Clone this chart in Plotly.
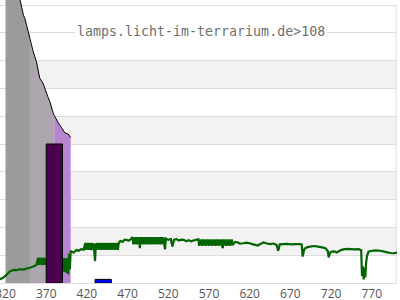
import plotly.graph_objects as go

# ---- data ----
x_ticks = [320, 370, 420, 470, 520, 570, 620, 670, 720, 770]

uv_nm = [320, 330, 338.5, 340, 342, 344, 346, 348, 350, 352, 354, 358, 360, 362, 366, 368,
         372, 374.5, 376.5, 378.5, 380, 383, 385, 389, 393, 397, 399, 400]
uv_val = [125, 112.5, 101.8, 99, 96.3, 95, 92.6, 90, 87.3, 85.6, 83.2, 79.6, 76.6, 73.7, 71.9, 70.1,
          67, 65.2, 62.9, 61.2, 60.2, 58.5, 57.5, 55.8, 54, 53.6, 52.9, 52.3]
uv_band_edges = [320, 350, 380, 400]
uv_band_colors = ["#9b9b9b", "#aea6ae", "#b784d0"]

bar_nm = [380, 440]
bar_val = [50, 1.3]
bar_colors = ["#4b0050", "#0000ff"]

green_nm = [
    313, 317, 321, 325, 328, 331, 334, 337, 340, 344, 347, 350, 354, 358,
    360, 361, 362, 363, 364, 365, 366, 367, 368, 369, 370, 380, 389,
    390, 391, 392, 393, 394, 395, 396, 397, 398, 399, 400,
    401, 404, 407, 410, 413, 416,
    418, 419, 420, 421, 422, 423, 424, 425, 426, 427, 428, 429, 430, 431, 432, 433, 434, 435, 436, 437,
    438, 439, 440, 441, 442, 443, 444, 445, 446, 447, 448, 449, 450, 451, 452, 453, 454, 455, 456, 457,
    458, 459,
    461, 464, 466, 469, 471, 474,
    476, 477, 478, 479, 480, 481, 482, 483, 484, 485, 486, 487, 488, 489, 490, 491, 492, 493, 494, 495,
    496, 497, 498, 499, 500, 501, 502, 503, 504, 505, 506, 507, 508, 509, 510, 511, 512, 513, 514, 515,
    516, 517,
    520, 523, 525, 527, 530, 533, 536, 539, 542, 545, 548, 551, 554,
    557, 558, 559, 560, 561, 562, 563, 564, 565, 566, 567, 568, 569, 570, 571, 572, 573, 574, 575, 576,
    577, 578, 579, 580, 581, 582, 583, 584, 585, 586, 587, 588, 589, 590, 591, 592, 593, 594, 595, 596,
    597, 598, 599,
    602, 605, 608, 612, 616, 620, 623, 627, 630, 633, 637, 641, 645, 649, 653, 655, 657, 661, 666, 671,
    676, 682, 684, 685, 687, 688, 691, 694, 699, 704, 709, 713, 716, 717, 719, 721, 724, 727, 731, 735,
    740, 744, 749, 754, 757, 758, 759, 760, 761, 762, 763, 764, 766, 770, 775, 780, 784, 789, 793, 797,
    801,
]
green_val = [
    1.3, 1.9, 2.9, 4.1, 4.5, 4.7, 4.6, 5.0, 4.8, 5.0, 5.3, 5.5, 5.9, 6.5,
    9.0, 6.5, 9.1, 6.6, 9.0, 6.4, 9.1, 6.5, 9.0, 6.6, 8.0, 8.0, 8.0,
    8.9, 4.2, 9.0, 4.0, 8.8, 3.6, 9.0, 3.2, 10.5, 5.0, 11.5,
    11.3, 11.0, 11.9, 11.6, 12.2, 12.0,
    14.4, 11.9, 14.3, 12.0, 14.4, 11.9, 14.3, 11.8, 14.4, 12.0, 14.3, 11.5, 7.9, 14.3, 11.9, 14.4, 12.0, 14.3, 11.9, 14.4,
    11.9, 14.3, 12.0, 14.4, 11.9, 14.3, 12.0, 14.4, 11.9, 14.3, 12.0, 14.4, 11.9, 14.3, 12.0, 14.4, 11.9, 14.3, 12.0, 14.4,
    11.9, 14.3,
    15.1, 14.8, 15.5, 15.5, 15.2, 15.8,
    16.5, 13.9, 16.4, 14.0, 16.5, 13.9, 16.5, 14.0, 16.4, 12.5, 16.5, 13.9, 16.5, 14.0, 16.4, 13.9, 16.5, 14.0, 16.5, 13.9,
    16.4, 14.0, 16.5, 13.9, 16.5, 14.0, 16.4, 13.9, 16.5, 14.0, 16.5, 13.9, 16.4, 14.0, 16.5, 13.9, 16.5, 14.0, 16.4, 13.9,
    12.1, 16.0,
    15.5, 15.8, 13.1, 15.5, 15.8, 15.3, 15.6, 15.5, 15.0, 15.4, 15.0, 15.3, 15.5,
    15.7, 13.4, 15.6, 13.5, 15.7, 13.4, 15.7, 13.5, 15.6, 13.4, 15.7, 13.5, 15.7, 13.4, 15.6, 13.5, 15.7, 13.4, 15.7, 13.5,
    15.6, 13.4, 15.7, 13.5, 15.7, 13.4, 15.6, 13.5, 15.7, 13.4, 12.5, 15.7, 13.5, 15.6, 13.4, 15.7, 13.5, 15.7, 13.4, 15.6,
    13.5, 15.7, 13.6,
    14.8, 14.6, 14.2, 14.3, 14.5, 14.3, 14.0, 13.7, 13.5, 14.0, 14.6, 14.2, 14.0, 14.2, 13.7, 11.6, 13.9, 14.0, 14.1, 13.9,
    14.0, 14.0, 13.8, 9.5, 12.0, 12.5, 12.9, 13.1, 13.3, 13.1, 12.8, 12.5, 11.5, 9.2, 11.0, 11.3, 11.4, 11.0, 11.7, 12.1,
    12.3, 12.2, 12.1, 12.2, 11.8, 2.5, 6.0, 1.3, 5.5, 2.0, 7.0, 9.5, 11.3, 11.6, 11.7, 11.6, 11.4, 11.0, 10.8, 10.7,
    10.9,
]

stripe_bands = [(10, 20), (30, 40), (50, 60), (70, 80)]
label_text = "lamps.licht-im-terrarium.de>108"

X_RANGE = [313.2, 801]
Y_RANGE = [0, 101.8]

fig = go.Figure()

# UV fill bands under the curve
for i, color in enumerate(uv_band_colors):
    lo, hi = uv_band_edges[i], uv_band_edges[i + 1]
    xs = [x for x in uv_nm if lo <= x <= hi]
    ys = [y for x, y in zip(uv_nm, uv_val) if lo <= x <= hi]
    fig.add_trace(go.Scatter(x=xs, y=ys, mode="lines", fill="tozeroy",
                             fillcolor=color, line=dict(width=0, color=color),
                             hoverinfo="skip", showlegend=False))

# black curve
fig.add_trace(go.Scatter(x=uv_nm, y=uv_val, mode="lines",
                         line=dict(color="black", width=1), showlegend=False))

# green spectrum
fig.add_trace(go.Scatter(x=green_nm, y=green_val, mode="lines",
                         line=dict(color="#006400", width=2.2, simplify=False),
                         showlegend=False))

# bars on overlay axes so they draw above the lines
fig.add_trace(go.Bar(x=bar_nm, y=bar_val, width=20, xaxis="x2", yaxis="y2",
                     marker=dict(color=bar_colors, line=dict(color="black", width=1)),
                     showlegend=False))

shapes = []
for lo, hi in stripe_bands:
    shapes.append(dict(type="rect", xref="x", yref="y", x0=320, x1=800, y0=lo, y1=hi,
                       fillcolor="#f2f2f2", line=dict(width=0), layer="below"))
shapes.append(dict(type="line", xref="x", yref="y", x0=800, x1=800, y0=0, y1=100,
                   line=dict(color="#dddddd", width=1), layer="below"))

fig.update_layout(
    width=400, height=300,
    margin=dict(l=0, r=3, t=0, b=17, autoexpand=False),
    paper_bgcolor="white", plot_bgcolor="white",
    showlegend=False,
    shapes=shapes,
    xaxis=dict(range=X_RANGE, tickvals=x_ticks, ticktext=[str(t) for t in x_ticks],
               showgrid=False, zeroline=False, showline=True, linecolor="#dddddd",
               automargin=False, ticks="", ticklabeloverflow="allow", ticklabelstandoff=0,
               tickfont=dict(family="Open Sans", size=12, color="#555555")),
    yaxis=dict(range=Y_RANGE, dtick=10, tick0=0, showgrid=True, gridcolor="#dddddd",
               automargin=False, gridwidth=1, zeroline=False, showticklabels=False, ticks=""),
    xaxis2=dict(range=X_RANGE, overlaying="x", visible=False, automargin=False),
    yaxis2=dict(range=Y_RANGE, overlaying="y", visible=False, automargin=False),
    annotations=[dict(text=label_text, x=560.2, y=90.6, xref="x", yref="y",
                      showarrow=False, xanchor="center", yanchor="middle",
                      bgcolor="white", borderpad=1,
                      font=dict(family="DejaVu Sans Mono", size=13.3, color="#707070"))],
)

fig.write_html("out.html")
